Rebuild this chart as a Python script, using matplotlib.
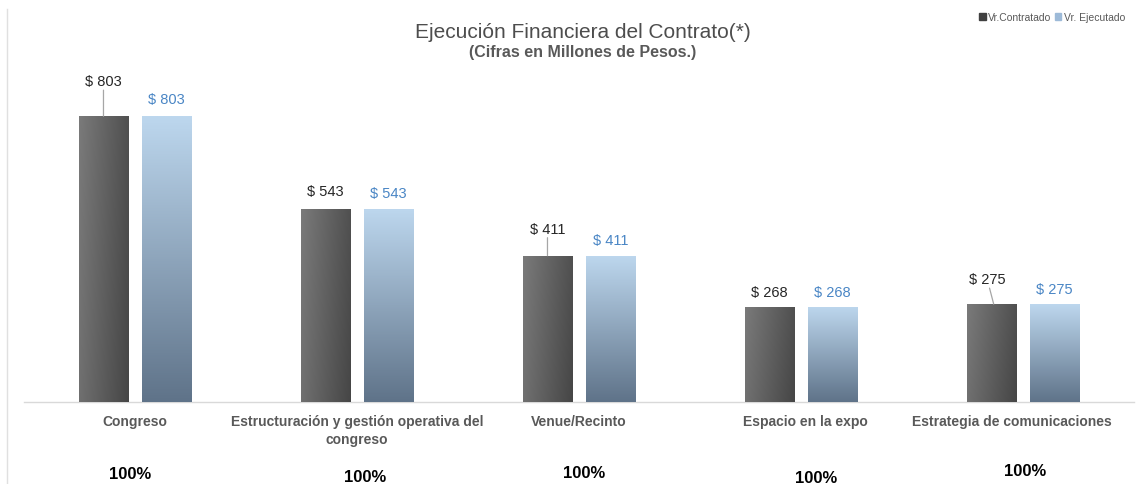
import matplotlib
matplotlib.use("Agg")
import matplotlib.pyplot as plt
import numpy as np
from matplotlib.colors import LinearSegmentedColormap
from matplotlib.lines import Line2D
from matplotlib.transforms import ScaledTranslation

categories = ["Congreso", "Estructuración y gestión operativa del\ncongreso",
              "Venue/Recinto", "Espacio en la expo", "Estrategia de comunicaciones"]
contratado = [803, 543, 411, 268, 275]
ejecutado = [803, 543, 411, 268, 275]
percentages = ["100%", "100%", "100%", "100%", "100%"]
series_names = ["Vr.Contratado", "Vr. Ejecutado"]

NARROW = ["Liberation Sans Narrow", "Liberation Sans", "DejaVu Sans"]
plt.rcParams["font.family"] = NARROW

fig = plt.figure(figsize=(11.43, 4.85), dpi=100)
ax = fig.add_axes([24/1143, 82/485, 1110/1143, 383/485])

x = np.arange(len(categories))
w = 0.225
off = 0.142
dark_bars = ax.bar(x - off, contratado, w, color="#5e5e5e", zorder=2)
light_bars = ax.bar(x + off, ejecutado, w, color="#8ea6c0", zorder=2)

# gradients
dark_cmap = LinearSegmentedColormap.from_list("d", ["#7a7a7a", "#464646"])
light_cmap = LinearSegmentedColormap.from_list("l", ["#5f7389", "#bdd7ee"])
gx = np.linspace(0, 1, 64)
gy = np.linspace(0, 1, 128)
GX, GY = np.meshgrid(gx, gy)
dark_grad = 0.8 * GX + 0.2 * (1 - GY)
light_grad = GY
for bars, grad, cmap in [(dark_bars, dark_grad, dark_cmap), (light_bars, light_grad, light_cmap)]:
    for b in bars:
        bx, by = b.get_x(), b.get_y()
        bw, bh = b.get_width(), b.get_height()
        im = ax.imshow(grad, cmap=cmap, extent=[bx, bx + bw, by, by + bh],
                       origin="lower", aspect="auto", zorder=3, vmin=0, vmax=1)
        im.set_clip_path(b)
ax.set_xlim(-0.5, len(categories) - 0.5)
ax.set_ylim(0, 1076)

# data labels (offsets in px above bar top)
dark_off = [35, 18, 27, 15, 25]
dark_dx = [0, 0, 0, 0, -3]
light_off = [17, 16, 16, 15, 15]
for i in range(len(categories)):
    xd = x[i] - off
    ax.annotate(f"$ {contratado[i]}", (xd, contratado[i]), xytext=(dark_dx[i], dark_off[i] * 0.72),
                textcoords="offset points", ha="center", va="center", fontsize=10.5,
                color="#262626", zorder=5)
    if dark_off[i] > 22:
        ax.annotate("", (xd + (0.01 if i == 4 else 0), contratado[i]),
                    xytext=(dark_dx[i], (dark_off[i] - 9) * 0.72), textcoords="offset points",
                    arrowprops=dict(arrowstyle="-", color="#a6a6a6", lw=0.9, shrinkA=0, shrinkB=0))
    xl = x[i] + off
    ax.annotate(f"$ {ejecutado[i]}", (xl, ejecutado[i]), xytext=(0, light_off[i] * 0.72),
                textcoords="offset points", ha="center", va="center", fontsize=10.5,
                color="#4a86c5", zorder=5)

for s in ["top", "right", "left"]:
    ax.spines[s].set_visible(False)
ax.spines["bottom"].set_color("#d9d9d9")
ax.spines["bottom"].set_linewidth(1.0)
ax.set_yticks([])
ax.set_xticks(x)
ax.set_xticklabels(categories, fontsize=10, color="#595959", fontweight="bold", linespacing=1.3)
ax.tick_params(axis="x", length=0, pad=9)
label_dx = [0, 0, 0, 3, -8]
for lbl, dx in zip(ax.get_xticklabels(), label_dx):
    lbl.set_verticalalignment("top")
    lbl.set_transform(lbl.get_transform() + ScaledTranslation(dx / 72, 0, fig.dpi_scale_trans))

# percentages
pct_y = [475, 478, 474, 479, 472]
pct_dx = [-5, 8, 5, 15, 2]
for i, p in enumerate(percentages):
    ax.annotate(p, (x[i], 0), xycoords=("data", "axes fraction"),
                xytext=(pct_dx[i] * 0.72, -(pct_y[i] - 403) * 0.72), textcoords="offset points",
                ha="center", va="center", fontsize=12, fontweight="bold", color="#000000")

fig.text(583/1143, 1 - 32/485, "Ejecución Financiera del Contrato(*)", ha="center", va="center",
         fontsize=15, color="#4d4d4d")
fig.text(583/1143, 1 - 53/485, "(Cifras en Millones de Pesos.)", ha="center", va="center",
         fontsize=11.5, fontweight="bold", color="#595959")

handles = [plt.Rectangle((0, 0), 1, 1, color="#404040"), plt.Rectangle((0, 0), 1, 1, color="#9dbad8")]
fig.legend(handles, series_names, loc="center right", bbox_to_anchor=(1130/1143, 1 - 18/485),
           ncol=2, frameon=False, fontsize=7.5, labelcolor="#595959", handlelength=0.6,
           handleheight=0.7, handletextpad=0.2, columnspacing=0.4, borderpad=0)

fig.add_artist(Line2D([7/1143, 7/1143], [0, 1 - 10/485], transform=fig.transFigure,
                      color="#e0e0e0", lw=1.0))

fig.savefig("out.png", dpi=100, facecolor="white")
